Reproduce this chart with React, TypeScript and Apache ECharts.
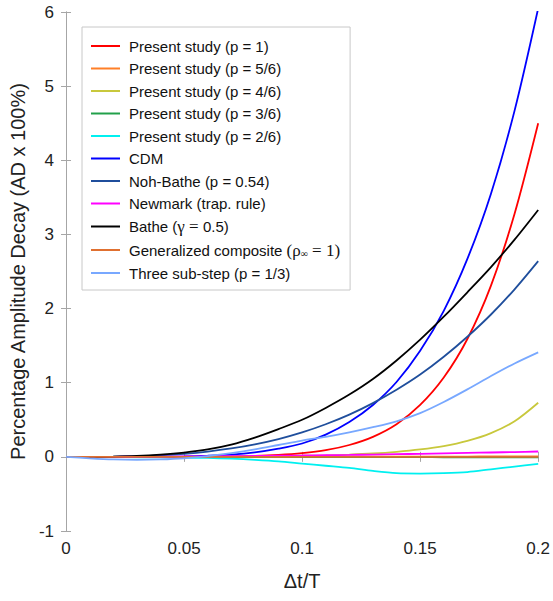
import React, { useEffect, useRef } from "react";
import * as echarts from "echarts";

const dtT = [0, 0.01, 0.02, 0.03, 0.04, 0.05, 0.06, 0.07, 0.08, 0.09, 0.1, 0.11, 0.12, 0.13, 0.14, 0.15, 0.16, 0.17, 0.18, 0.19, 0.2];

const presentP1 = [0, 0, 0, 0, 0, 0, 0.002, 0.005, 0.012, 0.026, 0.05, 0.09, 0.16, 0.27, 0.44, 0.7, 1.07, 1.59, 2.31, 3.28, 4.5];
const presentP56 = [0, 0, 0, 0, 0, 0, 0, 0, 0, 0, 0.001, 0.001, 0.002, 0.002, 0.003, 0.003, 0.004, 0.004, 0.005, 0.005, 0.006];
const presentP46 = [0, 0, 0, 0, 0, 0, 0.002, 0.004, 0.006, 0.01, 0.015, 0.02, 0.03, 0.045, 0.068, 0.1, 0.145, 0.215, 0.32, 0.48, 0.73];
const presentP36 = [0, 0, 0, 0, 0, 0, 0, 0, -0.001, -0.001, -0.002, -0.002, -0.003, -0.003, -0.004, -0.004, -0.005, -0.005, -0.006, -0.006, -0.007];
const presentP26 = [0, 0, -0.003, -0.006, -0.008, -0.01, -0.015, -0.025, -0.04, -0.06, -0.09, -0.12, -0.15, -0.19, -0.22, -0.225, -0.22, -0.205, -0.168, -0.131, -0.095];
const cdm = [0, 0, 0, 0.0005, 0.002, 0.006, 0.015, 0.03, 0.06, 0.11, 0.18, 0.3, 0.47, 0.7, 1.01, 1.43, 1.97, 2.67, 3.55, 4.67, 6.05];
const nohBathe = [0, 0, 0.003, 0.009, 0.021, 0.041, 0.071, 0.113, 0.169, 0.24, 0.33, 0.44, 0.57, 0.725, 0.905, 1.11, 1.35, 1.62, 1.92, 2.26, 2.64];
const newmark = [0, 0, 0.001, 0.002, 0.003, 0.005, 0.007, 0.009, 0.012, 0.015, 0.018, 0.022, 0.026, 0.031, 0.036, 0.041, 0.047, 0.053, 0.059, 0.065, 0.072];
const bathe = [0, 0, 0.003, 0.012, 0.03, 0.058, 0.1, 0.165, 0.26, 0.375, 0.5, 0.66, 0.84, 1.05, 1.3, 1.58, 1.89, 2.22, 2.56, 2.93, 3.33];
const genComposite = [0, 0, 0, 0, 0, 0, 0, 0, 0, 0, 0, 0, 0, 0, 0, 0, 0, 0, 0, 0, 0];
const threeSubStep = [0, -0.02, -0.035, -0.04, -0.035, -0.02, 0.01, 0.05, 0.1, 0.16, 0.22, 0.27, 0.33, 0.4, 0.48, 0.59, 0.74, 0.91, 1.09, 1.26, 1.41];

const seriesNames = [
  "Present study (p = 1)",
  "Present study (p = 5/6)",
  "Present study (p = 4/6)",
  "Present study (p = 3/6)",
  "Present study (p = 2/6)",
  "CDM",
  "Noh-Bathe (p = 0.54)",
  "Newmark (trap. rule)",
  "Bathe (γ = 0.5)",
  "Generalized composite (ρ∞ = 1)",
  "Three sub-step (p = 1/3)",
];
const seriesValues = [presentP1, presentP56, presentP46, presentP36, presentP26, cdm, nohBathe, newmark, bathe, genComposite, threeSubStep];
const seriesColors = ["#ff0000", "#ff7f27", "#c8c83c", "#22a04a", "#00f0f0", "#0000ff", "#1f4e9c", "#ff00ff", "#000000", "#e07030", "#78a8ff"];

const yTicks = [-1, 0, 1, 2, 3, 4, 5, 6];

const FONT = 'Arial, "Liberation Sans", sans-serif';
const SERIF = '"Times New Roman", "Liberation Serif", serif';
const AXIS_COLOR = "#a6a6a6";

export default function App() {
  const ref = useRef<HTMLDivElement>(null);
  useEffect(() => {
    if (!ref.current) return;
    const chart = echarts.init(ref.current, undefined, { renderer: "svg" });
    const axisCommon = {
      axisLine: { show: true, lineStyle: { color: AXIS_COLOR, width: 1 } },
      axisTick: { show: true, inside: true, length: 5, lineStyle: { color: AXIS_COLOR } },
      splitLine: { show: false },
    };
    chart.setOption({
      animation: false,
      backgroundColor: "#ffffff",
      grid: { left: 66, right: 13, top: 12, bottom: 70, containLabel: false },
      xAxis: [
        {
          type: "value",
          min: 0,
          max: 0.2,
          interval: 0.05,
          ...axisCommon,
          axisLabel: { color: "#222", fontSize: 17, fontFamily: FONT, margin: 9 },
          name: "Δt/T",
          nameLocation: "middle",
          nameGap: 40,
          nameTextStyle: { color: "#222", fontSize: 20, fontFamily: FONT },
        },
        {
          type: "value",
          min: 0,
          max: 0.2,
          interval: 0.05,
          position: "top",
          ...axisCommon,
          axisLabel: { show: false },
        },
      ],
      yAxis: [
        {
          type: "value",
          min: yTicks[0],
          max: yTicks[yTicks.length - 1],
          interval: 1,
          ...axisCommon,
          axisLabel: { color: "#222", fontSize: 17, fontFamily: FONT, margin: 12 },
          name: "Percentage Amplitude Decay (AD x 100%)",
          nameLocation: "middle",
          nameRotate: 90,
          nameGap: 30,
          nameTextStyle: { color: "#222", fontSize: 20, fontFamily: FONT },
        },
        {
          type: "value",
          min: yTicks[0],
          max: yTicks[yTicks.length - 1],
          interval: 1,
          position: "right",
          ...axisCommon,
          axisLabel: { show: false },
        },
      ],
      legend: {
        orient: "vertical",
        left: 82,
        top: 27,
        padding: [11, 10, 9, 9],
        backgroundColor: "#ffffff",
        borderColor: "#c8c8c8",
        borderWidth: 1,
        borderRadius: 0,
        itemWidth: 29,
        itemHeight: 2,
        itemGap: 6.5,
        icon: "rect",
        data: seriesNames,
        formatter: (name: string) => {
          if (name.startsWith("Bathe")) return "{a|Bathe (}{s|γ = }{a|0.5)}";
          if (name.startsWith("Generalized")) return "{a|Generalized composite }{s|(ρ}{sub|∞}{s| = 1)}";
          return "{a|" + name + "}";
        },
        textStyle: {
          color: "#111",
          fontSize: 15,
          fontFamily: FONT,
          lineHeight: 16,
          padding: [0, 0, 0, 4],
          rich: {
            a: { fontSize: 15, fontFamily: FONT, color: "#111", lineHeight: 16 },
            s: { fontSize: 17, fontFamily: SERIF, color: "#111", lineHeight: 16 },
            sub: { fontSize: 10, fontFamily: SERIF, color: "#111", lineHeight: 16, padding: [7, 0, 0, 0] },
          },
        },
      },
      series: seriesNames.map((name, i) => ({
        name,
        type: "line",
        xAxisIndex: 0,
        yAxisIndex: 0,
        data: dtT.map((x, j) => [x, seriesValues[i][j]]),
        showSymbol: false,
        symbol: "none",
        smooth: 0.3,
        clip: true,
        color: seriesColors[i],
        lineStyle: { color: seriesColors[i], width: 1.8 },
        z: 2,
      })),
    });
    return () => chart.dispose();
  }, []);
  return <div ref={ref} style={{ position: "fixed", left: 0, top: 0, width: 553, height: 601 }} />;
}
